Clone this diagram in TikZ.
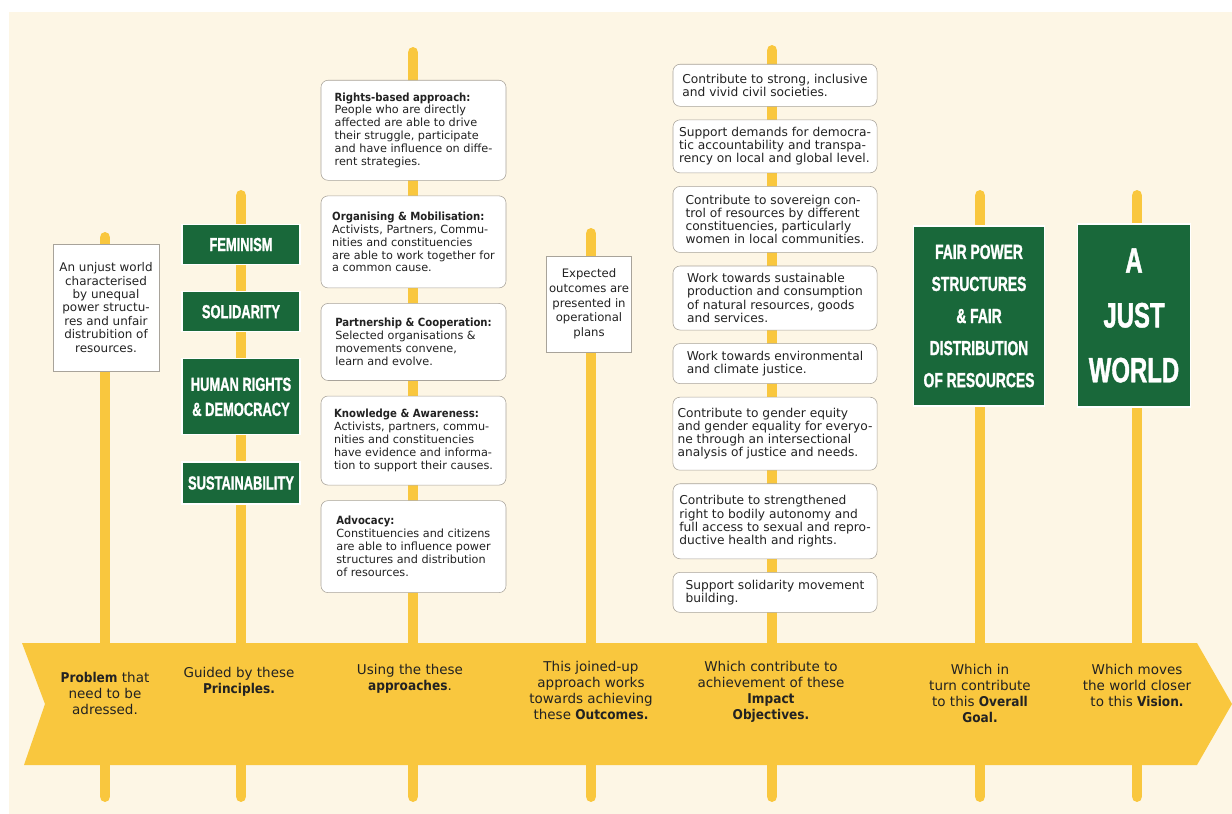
\documentclass[tikz,border=0pt]{standalone}
\usepackage{fontspec}
\setmainfont{DejaVu Sans}[BoldFont={DejaVu Sans Condensed Bold}]
\newfontfamily\signfont[FakeStretch=0.68,FakeBold=1.2]{Liberation Sans}
\usepackage{xcolor}
\usetikzlibrary{positioning}

\begin{document}
\begin{tikzpicture}[x=0.025cm,y=-0.025cm,node distance=0.375cm]
    \definecolor{mycream}{RGB}{253,246,229}
    \definecolor{myyellow}{RGB}{249,199,62}
    \definecolor{mygreen}{RGB}{25,104,58}
    \definecolor{mygray}{RGB}{168,163,154}
    \definecolor{mytext}{RGB}{34,34,34}

    \tikzstyle{pole}=[draw=myyellow,line width=7.8pt,line cap=round]  % yellow posts
    \tikzstyle{note}=[rectangle,draw=mygray,thin,fill=white,inner sep=0pt,align=center,text=mytext,font=\fontsize{8.5}{9.5}\selectfont]
    \tikzstyle{approach}=[rectangle,rounded corners=5pt,draw=mygray,thin,fill=white,align=left,text=mytext,minimum width=4.625cm,font=\fontsize{8}{9.2}\selectfont]
    \tikzstyle{objective}=[approach,minimum width=5.1cm,font=\fontsize{8.7}{9.4}\selectfont]
    \tikzstyle{principle}=[rectangle,fill=mygreen,draw=white,thick,text=white,align=center,minimum width=2.95cm,font=\signfont\bfseries\fontsize{13.5}{17.8}\selectfont]
    \tikzstyle{caption}=[align=center,anchor=north,text=mytext,inner sep=0pt,font=\fontsize{9.6}{11.3}\selectfont]

    % background
    \useasboundingbox (0,0) rectangle (1232,814);
    \fill[white] (0,0) rectangle (1232,814);
    \fill[mycream] (9,12) rectangle (1232,814);

    % posts
    \foreach \name/\x/\top in {problem/105/237.5,principles/241/195.5,approaches/413/52.5,outcomes/591/233.5,objectives/772/50.5,goal/980/195.5,vision/1137/195.5}{
        \coordinate (\name top) at (\x,\top);
        \coordinate (\name bottom) at (\x,796.5);
        \draw[pole] (\name top) -- (\name bottom);
    }

    % arrow band
    \fill[myyellow] (22,643) -- (1197,643) -- (1232,704) -- (1197,765) -- (24,765) -- (45,704) -- cycle;

    % problem
    \node[note,minimum width=2.65cm,minimum height=3.175cm](problem) at (106,307.5){An unjust world\\characterised\\by unequal\\power structu-\\res and unfair\\distrubition of\\resources.};

    % principles
    \node[principle,minimum height=1cm,anchor=north](feminism) at (241,224){FEMINISM};
    \node[principle,minimum height=1cm,below=0.65cm of feminism](solidarity){SOLIDARITY};
    \node[principle,minimum height=1.9cm,below=0.65cm of solidarity](humanrights){HUMAN RIGHTS\\\& DEMOCRACY};
    \node[principle,minimum height=1.05cm,below=0.65cm of humanrights](sustainability){SUSTAINABILITY};

    % approaches
    \node[approach,minimum height=2.5cm,anchor=north](rights) at (413.5,80){\textbf{Rights-based approach:}\\People who are directly\\affected are able to drive\\their struggle, participate\\and have influence on diffe-\\rent strategies.};
    \node[approach,minimum height=2.3cm,below=of rights](organising){\textbf{Organising \& Mobilisation:}\\Activists, Partners, Commu-\\nities and constituencies\\are able to work together for\\a common cause.};
    \node[approach,minimum height=1.925cm,below=of organising](partnership){\textbf{Partnership \& Cooperation:}\\Selected organisations \&\\movements convene,\\learn and evolve.};
    \node[approach,minimum height=2.225cm,below=of partnership](knowledge){\textbf{Knowledge \& Awareness:}\\Activists, partners, commu-\\nities and constituencies\\have evidence and informa-\\tion to support their causes.};
    \node[approach,minimum height=2.3cm,below=of knowledge](advocacy){\textbf{Advocacy:}\\Constituencies and citizens\\are able to influence power\\structures and distribution\\of resources.};

    % outcomes
    \node[note,minimum width=2.125cm,minimum height=2.4cm,font=\fontsize{8.3}{10.5}\selectfont](outcomes) at (589,304){Expected\\outcomes are\\presented in\\operational\\plans};

    % impact objectives
    \node[objective,minimum height=1.05cm,anchor=north](civil) at (775,64){Contribute to strong, inclusive\\and vivid civil societies.};
    \node[objective,minimum height=1.325cm,below=0.325cm of civil](democratic){Support demands for democra-\\tic accountability and transpa-\\rency on local and global level.};
    \node[objective,minimum height=1.65cm,below=0.325cm of democratic](sovereign){Contribute to sovereign con-\\trol of resources by different\\constituencies, particularly\\women in local communities.};
    \node[objective,minimum height=1.6cm,below=0.325cm of sovereign](production){Work towards sustainable\\production and consumption\\of natural resources, goods\\and services.};
    \node[objective,minimum height=1cm,below=0.325cm of production](climate){Work towards environmental\\and climate justice.};
    \node[objective,minimum height=1.825cm,below=0.325cm of climate](gender){Contribute to gender equity\\and gender equality for everyo-\\ne through an intersectional\\analysis of justice and needs.};
    \node[objective,minimum height=1.875cm,below=0.325cm of gender](bodily){Contribute to strengthened\\right to bodily autonomy and\\full access to sexual and repro-\\ductive health and rights.};
    \node[objective,minimum height=1cm,below=0.325cm of bodily](movement){Support solidarity movement\\building.};

    % goal and vision
    \node[principle,minimum width=3.275cm,minimum height=4.5cm,font=\signfont\bfseries\fontsize{14.5}{22.8}\selectfont](goal) at (979,316){FAIR POWER\\STRUCTURES\\\& FAIR\\DISTRIBUTION\\OF RESOURCES};
    \node[principle,minimum width=2.825cm,minimum height=4.575cm,font=\signfont\bfseries\fontsize{25}{39}\selectfont](vision) at (1134,315.5){A\\JUST\\WORLD};

    % captions on the band
    \node[caption](problemtext) at (105,672){\textbf{Problem} that\\need to be\\adressed.};
    \node[caption](principlestext) at (239,667){Guided by these\\\textbf{Principles.}};
    \node[caption](approachestext) at (410,664){Using the these\\\textbf{approaches}.};
    \node[caption](outcomestext) at (591,661){This joined-up\\approach works\\towards achieving\\these \textbf{Outcomes.}};
    \node[caption](objectivestext) at (771,661){Which contribute to\\achievement of these\\\textbf{Impact}\\\textbf{Objectives.}};
    \node[caption](goaltext) at (980,664){Which in\\turn contribute\\to this \textbf{Overall}\\\textbf{Goal.}};
    \node[caption](visiontext) at (1137,664){Which moves\\the world closer\\to this \textbf{Vision.}};
\end{tikzpicture}
\end{document}
